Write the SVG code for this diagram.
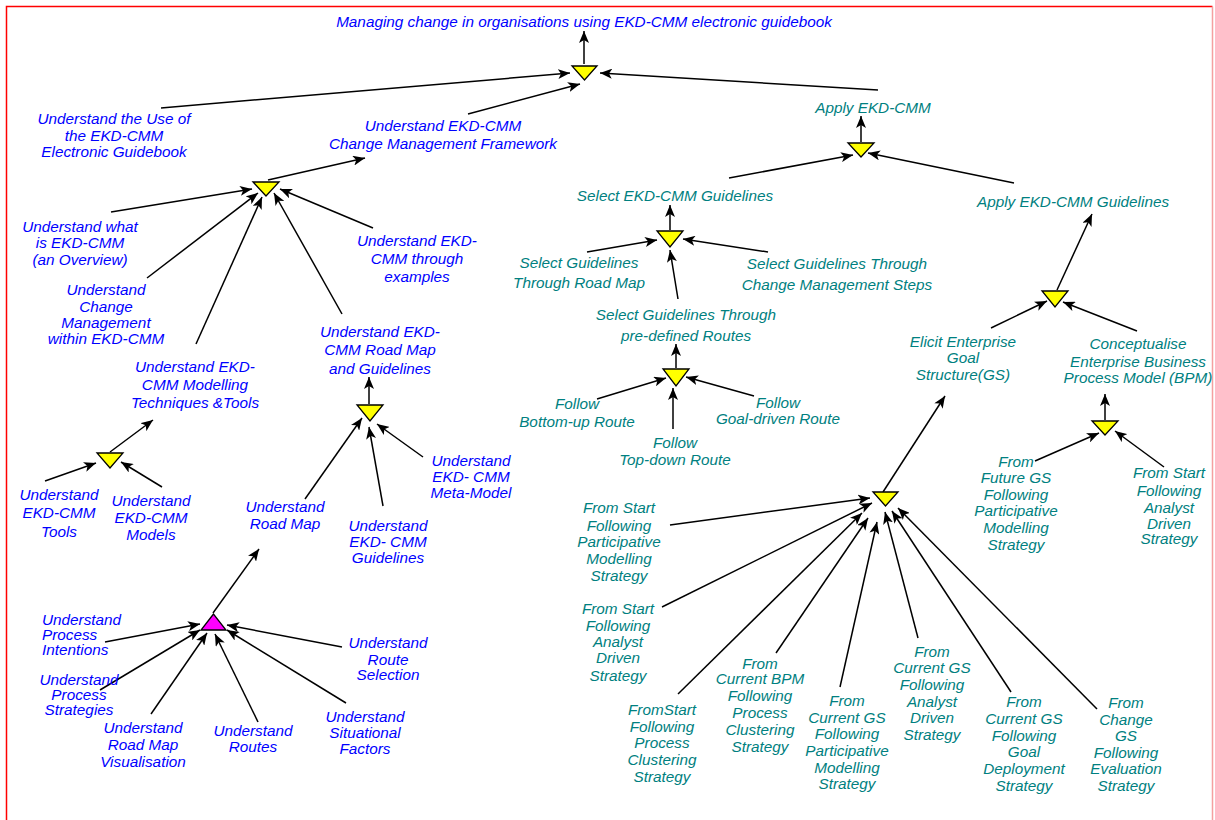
<svg xmlns="http://www.w3.org/2000/svg" width="1215" height="820" viewBox="0 0 1215 820">
<style>
text{font-family:"Liberation Sans",Arial,sans-serif;font-size:15.3px;font-style:italic;text-anchor:middle}
.b{fill:#0000ff}
.t{fill:#008080}
.tri{fill:#ffff00;stroke:#000;stroke-width:1.3}
.mag{fill:#ff00ff;stroke:#000;stroke-width:1.3}
#connectors line{stroke:#000;stroke-width:1.5;marker-end:url(#ah)}
</style>
<defs>
<marker id="ah" markerUnits="userSpaceOnUse" markerWidth="13" markerHeight="10" refX="12" refY="5" orient="auto">
<path d="M0,0 L12,5 L0,10 L3,5 z" fill="#000"/>
</marker>
</defs>
<rect width="1215" height="820" fill="#fff"/>
<path d="M6.5,830 V6.5 H1212.5" fill="none" stroke="#ff0000" stroke-width="1.5"/>
<path d="M1212.5,6.5 V830" fill="none" stroke="#f4a0a0" stroke-width="1.5"/>

<g id="connectors">
<line x1="584" y1="64" x2="584" y2="31"/>
<line x1="161" y1="108" x2="570" y2="73"/>
<line x1="468" y1="114" x2="580" y2="84"/>
<line x1="878" y1="90" x2="600" y2="73"/>
<line x1="268" y1="180" x2="365" y2="158"/>
<line x1="111" y1="212" x2="252" y2="189"/>
<line x1="147" y1="278" x2="258" y2="193"/>
<line x1="196" y1="344" x2="262" y2="197"/>
<line x1="342" y1="314" x2="274" y2="193"/>
<line x1="373" y1="228" x2="280" y2="189"/>
<line x1="110" y1="452" x2="153" y2="420"/>
<line x1="45" y1="481" x2="96" y2="463"/>
<line x1="162" y1="487" x2="121" y2="462"/>
<line x1="369" y1="404" x2="369" y2="377"/>
<line x1="305" y1="499" x2="362" y2="418"/>
<line x1="383" y1="506" x2="369" y2="427"/>
<line x1="423" y1="457" x2="377" y2="424"/>
<line x1="213" y1="613" x2="259" y2="549"/>
<line x1="105" y1="642" x2="200" y2="624"/>
<line x1="100" y1="690" x2="200" y2="630"/>
<line x1="151" y1="714" x2="207" y2="633"/>
<line x1="258" y1="722" x2="215" y2="634"/>
<line x1="346" y1="703" x2="227" y2="630"/>
<line x1="342" y1="647" x2="227" y2="625"/>
<line x1="861" y1="142" x2="861" y2="116"/>
<line x1="729" y1="178" x2="853" y2="155"/>
<line x1="1014" y1="183" x2="868" y2="153"/>
<line x1="670" y1="230" x2="670" y2="205"/>
<line x1="587" y1="252" x2="657" y2="240"/>
<line x1="768" y1="252" x2="683" y2="239"/>
<line x1="678" y1="299" x2="670" y2="250"/>
<line x1="676" y1="368" x2="676" y2="344"/>
<line x1="597" y1="399" x2="666" y2="378"/>
<line x1="673" y1="429" x2="673" y2="388"/>
<line x1="754" y1="396" x2="686" y2="377"/>
<line x1="1057" y1="290" x2="1092" y2="214"/>
<line x1="991" y1="328" x2="1047" y2="301"/>
<line x1="1137" y1="331" x2="1063" y2="302"/>
<line x1="1105" y1="420" x2="1105" y2="394"/>
<line x1="1035" y1="461" x2="1099" y2="433"/>
<line x1="1164" y1="467" x2="1115" y2="431"/>
<line x1="883" y1="492" x2="945" y2="396"/>
<line x1="670" y1="525" x2="870" y2="498"/>
<line x1="662" y1="607" x2="872" y2="503"/>
<line x1="678" y1="694" x2="862" y2="513"/>
<line x1="776" y1="653" x2="868" y2="518"/>
<line x1="840" y1="687" x2="877" y2="522"/>
<line x1="918" y1="638" x2="885" y2="512"/>
<line x1="1011" y1="692" x2="892" y2="511"/>
<line x1="1097" y1="709" x2="898" y2="508"/>
</g>

<g id="t1"><polygon class="tri" points="572,66 597,66 584.5,80"/></g>
<g id="t2"><polygon class="tri" points="253,182 279,182 266,196"/></g>
<g id="t3"><polygon class="tri" points="97,453 123,453 110,468"/></g>
<g id="t4"><polygon class="tri" points="357,405 383,405 370,421"/></g>
<g id="t5"><polygon class="mag" points="213.5,614 201,630 226,630"/></g>
<g id="t6"><polygon class="tri" points="848,143 874,143 861,157"/></g>
<g id="t7"><polygon class="tri" points="657,231 683,231 670,247"/></g>
<g id="t8"><polygon class="tri" points="663,369 689,369 676,386"/></g>
<g id="t9"><polygon class="tri" points="1042,291 1068,291 1055,307"/></g>
<g id="t10"><polygon class="tri" points="1092,421 1118,421 1105,435"/></g>
<g id="t11"><polygon class="tri" points="873,492 898,492 885.5,506"/></g>

<g id="n-title"><text class="b" x="584" y="27">Managing change in organisations using EKD-CMM electronic guidebook</text></g>
<g id="n-useof"><text class="b"><tspan x="114" y="124">Understand the Use of</tspan><tspan x="114" y="141">the EKD-CMM</tspan><tspan x="114" y="157">Electronic Guidebook</tspan></text></g>
<g id="n-framework"><text class="b"><tspan x="443" y="131">Understand EKD-CMM</tspan><tspan x="443" y="149">Change Management Framework</tspan></text></g>
<g id="n-whatis"><text class="b"><tspan x="80" y="232">Understand what</tspan><tspan x="80" y="248">is EKD-CMM</tspan><tspan x="80" y="265">(an Overview)</tspan></text></g>
<g id="n-examples"><text class="b"><tspan x="417" y="246">Understand EKD-</tspan><tspan x="417" y="264">CMM through</tspan><tspan x="417" y="282">examples</tspan></text></g>
<g id="n-changemgmt"><text class="b"><tspan x="106" y="295">Understand</tspan><tspan x="106" y="312">Change</tspan><tspan x="106" y="328">Management</tspan><tspan x="106" y="344">within EKD-CMM</tspan></text></g>
<g id="n-modelling"><text class="b"><tspan x="195" y="372">Understand EKD-</tspan><tspan x="195" y="390">CMM Modelling</tspan><tspan x="195" y="408">Techniques &amp;Tools</tspan></text></g>
<g id="n-tools"><text class="b"><tspan x="59" y="500">Understand</tspan><tspan x="59" y="518">EKD-CMM</tspan><tspan x="59" y="537">Tools</tspan></text></g>
<g id="n-models"><text class="b"><tspan x="151" y="506">Understand</tspan><tspan x="151" y="523">EKD-CMM</tspan><tspan x="151" y="540">Models</tspan></text></g>
<g id="n-roadmapguid"><text class="b"><tspan x="380" y="337">Understand EKD-</tspan><tspan x="380" y="355">CMM Road Map</tspan><tspan x="380" y="374">and Guidelines</tspan></text></g>
<g id="n-roadmap"><text class="b"><tspan x="285" y="512">Understand</tspan><tspan x="285" y="529">Road Map</tspan></text></g>
<g id="n-guidelines"><text class="b"><tspan x="388" y="531">Understand</tspan><tspan x="388" y="547">EKD- CMM</tspan><tspan x="388" y="563">Guidelines</tspan></text></g>
<g id="n-metamodel"><text class="b"><tspan x="471" y="466">Understand</tspan><tspan x="471" y="482">EKD- CMM</tspan><tspan x="471" y="498">Meta-Model</tspan></text></g>
<g id="n-intentions"><text class="b" style="text-anchor:start"><tspan x="42" y="625">Understand</tspan><tspan x="42" y="640">Process</tspan><tspan x="42" y="655">Intentions</tspan></text></g>
<g id="n-strategies"><text class="b"><tspan x="79" y="685">Understand</tspan><tspan x="79" y="700">Process</tspan><tspan x="79" y="715">Strategies</tspan></text></g>
<g id="n-visualisation"><text class="b"><tspan x="143" y="733">Understand</tspan><tspan x="143" y="750">Road Map</tspan><tspan x="143" y="767">Visualisation</tspan></text></g>
<g id="n-routes"><text class="b"><tspan x="253" y="736">Understand</tspan><tspan x="253" y="752">Routes</tspan></text></g>
<g id="n-situational"><text class="b"><tspan x="365" y="722">Understand</tspan><tspan x="365" y="738">Situational</tspan><tspan x="365" y="754">Factors</tspan></text></g>
<g id="n-routesel"><text class="b"><tspan x="388" y="648">Understand</tspan><tspan x="388" y="665">Route</tspan><tspan x="388" y="680">Selection</tspan></text></g>

<g id="n-apply"><text class="t" x="873" y="113">Apply EKD-CMM</text></g>
<g id="n-selectekd"><text class="t" x="675" y="201">Select EKD-CMM Guidelines</text></g>
<g id="n-applyguid"><text class="t" x="1073" y="207">Apply EKD-CMM Guidelines</text></g>
<g id="n-throughrm"><text class="t"><tspan x="579" y="268">Select Guidelines</tspan><tspan x="579" y="288">Through Road Map</tspan></text></g>
<g id="n-throughcms"><text class="t"><tspan x="837" y="269">Select Guidelines Through</tspan><tspan x="837" y="290">Change Management Steps</tspan></text></g>
<g id="n-predef"><text class="t"><tspan x="686" y="320">Select Guidelines Through</tspan><tspan x="686" y="341">pre-defined Routes</tspan></text></g>
<g id="n-bottomup"><text class="t"><tspan x="577" y="409">Follow</tspan><tspan x="577" y="427">Bottom-up Route</tspan></text></g>
<g id="n-topdown"><text class="t"><tspan x="675" y="448">Follow</tspan><tspan x="675" y="465">Top-down Route</tspan></text></g>
<g id="n-goaldriven"><text class="t"><tspan x="778" y="408">Follow</tspan><tspan x="778" y="424">Goal-driven Route</tspan></text></g>
<g id="n-elicit"><text class="t"><tspan x="963" y="347">Elicit Enterprise</tspan><tspan x="963" y="363">Goal</tspan><tspan x="963" y="380">Structure(GS)</tspan></text></g>
<g id="n-concept"><text class="t"><tspan x="1138" y="349">Conceptualise</tspan><tspan x="1138" y="367">Enterprise Business</tspan><tspan x="1138" y="383">Process Model (BPM)</tspan></text></g>
<g id="n-futuregs"><text class="t"><tspan x="1016" y="467">From</tspan><tspan x="1016" y="483">Future GS</tspan><tspan x="1016" y="500">Following</tspan><tspan x="1016" y="516">Participative</tspan><tspan x="1016" y="533">Modelling</tspan><tspan x="1016" y="550">Strategy</tspan></text></g>
<g id="n-startanalyst-r"><text class="t"><tspan x="1169" y="478">From Start</tspan><tspan x="1169" y="496">Following</tspan><tspan x="1169" y="513">Analyst</tspan><tspan x="1169" y="529">Driven</tspan><tspan x="1169" y="544">Strategy</tspan></text></g>
<g id="n-startpart"><text class="t"><tspan x="619" y="513">From Start</tspan><tspan x="619" y="531">Following</tspan><tspan x="619" y="547">Participative</tspan><tspan x="619" y="564">Modelling</tspan><tspan x="619" y="581">Strategy</tspan></text></g>
<g id="n-startanalyst"><text class="t"><tspan x="618" y="614">From Start</tspan><tspan x="618" y="631">Following</tspan><tspan x="618" y="647">Analyst</tspan><tspan x="618" y="663">Driven</tspan><tspan x="618" y="681">Strategy</tspan></text></g>
<g id="n-startclust"><text class="t"><tspan x="662" y="715">FromStart</tspan><tspan x="662" y="732">Following</tspan><tspan x="662" y="748">Process</tspan><tspan x="662" y="765">Clustering</tspan><tspan x="662" y="782">Strategy</tspan></text></g>
<g id="n-bpmclust"><text class="t"><tspan x="760" y="669">From</tspan><tspan x="760" y="684">Current BPM</tspan><tspan x="760" y="701">Following</tspan><tspan x="760" y="718">Process</tspan><tspan x="760" y="735">Clustering</tspan><tspan x="760" y="752">Strategy</tspan></text></g>
<g id="n-gspart"><text class="t"><tspan x="847" y="706">From</tspan><tspan x="847" y="723">Current GS</tspan><tspan x="847" y="739">Following</tspan><tspan x="847" y="756">Participative</tspan><tspan x="847" y="773">Modelling</tspan><tspan x="847" y="789">Strategy</tspan></text></g>
<g id="n-gsanalyst"><text class="t"><tspan x="932" y="657">From</tspan><tspan x="932" y="673">Current GS</tspan><tspan x="932" y="690">Following</tspan><tspan x="932" y="707">Analyst</tspan><tspan x="932" y="723">Driven</tspan><tspan x="932" y="740">Strategy</tspan></text></g>
<g id="n-gsgoal"><text class="t"><tspan x="1024" y="707">From</tspan><tspan x="1024" y="724">Current GS</tspan><tspan x="1024" y="741">Following</tspan><tspan x="1024" y="757">Goal</tspan><tspan x="1024" y="774">Deployment</tspan><tspan x="1024" y="791">Strategy</tspan></text></g>
<g id="n-gseval"><text class="t"><tspan x="1126" y="708">From</tspan><tspan x="1126" y="725">Change</tspan><tspan x="1126" y="741">GS</tspan><tspan x="1126" y="758">Following</tspan><tspan x="1126" y="774">Evaluation</tspan><tspan x="1126" y="791">Strategy</tspan></text></g>
</svg>
